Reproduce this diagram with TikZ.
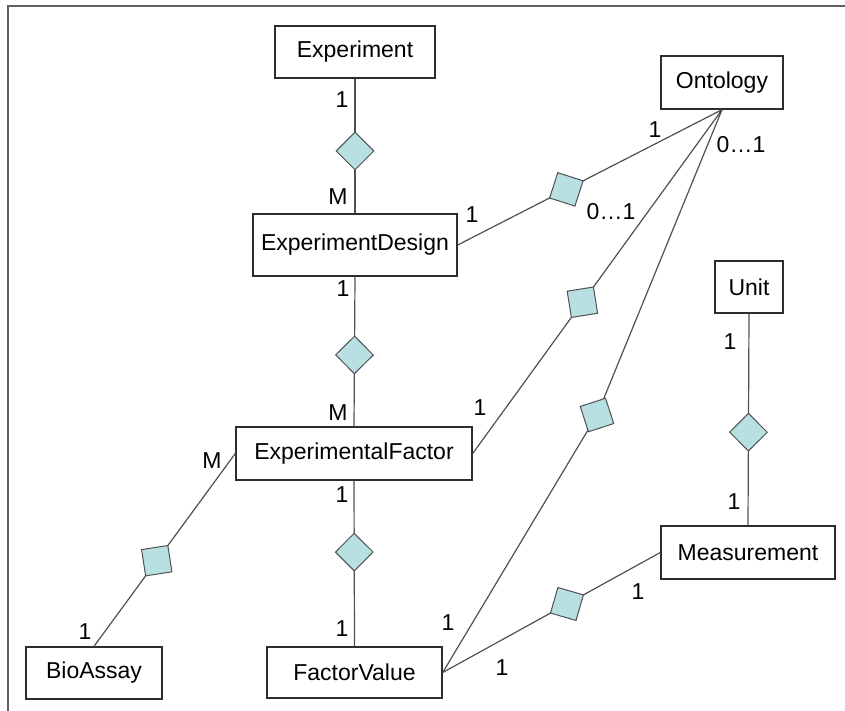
\documentclass[tikz,border=0pt]{standalone}
\usepackage{fontspec}
\setmainfont{Liberation Sans}
\usetikzlibrary{shapes.geometric}
\definecolor{relfill}{RGB}{184,224,227}
\definecolor{edgegray}{RGB}{80,80,80}
\definecolor{boxline}{RGB}{45,45,45}
\definecolor{framegray}{RGB}{95,95,95}
\begin{document}
\begin{tikzpicture}[x=1pt,y=-1pt,
  entity/.style={draw=boxline,line width=1.4pt,fill=white,inner sep=0pt,
    font=\fontsize{23}{27}\selectfont},
  relbox/.style={diamond,aspect=1,draw=edgegray,line width=1pt,fill=relfill,
    minimum size=38pt,inner sep=0pt},
  rel/.style={relbox,sloped},
  conn/.style={draw=edgegray,line width=1.2pt},
  card/.style={font=\fontsize{23}{27}\selectfont,inner sep=0pt}]
\useasboundingbox (0,0) rectangle (845,711);
% frame edges
\draw[line width=2pt,color=framegray] (8,711) -- (8,6) -- (845,6);

% entities
\node[entity,minimum width=160pt,minimum height=52pt] (exp)  at (355,52)    {Experiment};
\node[entity,minimum width=122pt,minimum height=53pt] (ont)  at (722,82.5)  {Ontology};
\node[entity,minimum width=204pt,minimum height=62pt] (ed)   at (355,245)   {ExperimentDesign};
\node[entity,minimum width=68pt, minimum height=52pt] (unit) at (749,287)   {Unit};
\node[entity,minimum width=236pt,minimum height=53pt] (ef)   at (354,453.5) {ExperimentalFactor};
\node[entity,minimum width=136pt,minimum height=52pt] (ba)   at (94,673)    {BioAssay};
\node[entity,minimum width=175pt,minimum height=51pt] (fv)   at (354.5,672.5) {FactorValue};
\node[entity,minimum width=174pt,minimum height=53pt] (meas) at (748,552.5) {Measurement};

% relationships
\draw[conn] (exp.south) -- node[rel,pos=0.537] (r1) {} (ed.north);
\draw[conn] (ed.south)  -- node[rel,pos=0.523] (r2) {} (ef.north);
\draw[conn] (ef.south)  -- node[rel,pos=0.431] (r3) {} (fv.north);
\draw[conn] (unit.south) -- node[rel,pos=0.56] (r4) {} (meas.north);
\draw[conn] (ed.east)   -- node[rel,pos=0.411] (r5) {} (ont.south);
\draw[conn] (ef.east)   -- node[rel,pos=0.44]  (r6) {} (ont.south);
\draw[conn] (ba.north)  -- node[rel,pos=0.444] (r7) {} (ef.west);
\draw[conn] (fv.east)   -- node[rel,pos=0.571] (r8) {} (meas.west);
\coordinate (kink) at (597,415);
\draw[conn] (fv.east) -- (kink) -- (ont.south);
\node[relbox,rotate=63] (r9) at (kink) {};

% cardinalities
\node[card] (c1)  at (342,100) {1};
\node[card] (c2)  at (338,197) {M};
\node[card] (c3)  at (472,215) {1};
\node[card] (c4)  at (655,130) {1};
\node[card] (c5)  at (741,145) {0…1};
\node[card] (c6)  at (611,212) {0…1};
\node[card] (c7)  at (343,289) {1};
\node[card] (c8)  at (338,413) {M};
\node[card] (c9)  at (480,408) {1};
\node[card] (c10) at (212,461) {M};
\node[card] (c11) at (342,495) {1};
\node[card] (c12) at (85,632)  {1};
\node[card] (c13) at (342,629) {1};
\node[card] (c14) at (448,623) {1};
\node[card] (c15) at (502,668) {1};
\node[card] (c16) at (638,592) {1};
\node[card] (c17) at (730,342) {1};
\node[card] (c18) at (734,502) {1};
\end{tikzpicture}
\end{document}
